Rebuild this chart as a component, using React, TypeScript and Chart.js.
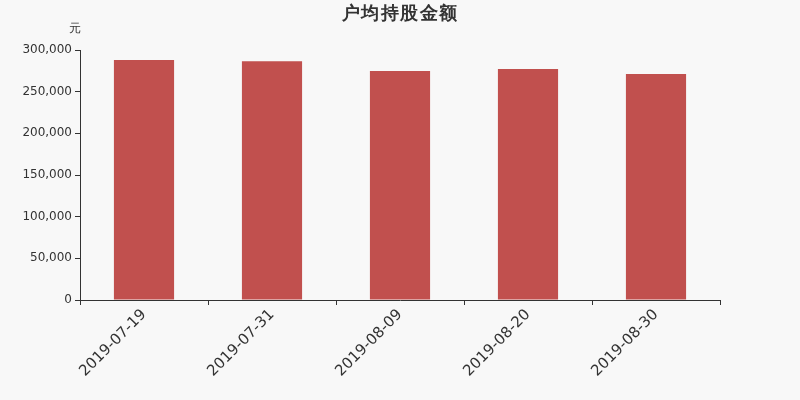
import { useEffect, useRef } from "react";
import { Chart, registerables } from "chart.js";

Chart.register(...registerables);

const dates = ["2019-07-19", "2019-07-31", "2019-08-09", "2019-08-20", "2019-08-30"];
const avgHolding = [288000, 286400, 274800, 277200, 271200];
const yTicks = [0, 50000, 100000, 150000, 200000, 250000, 300000];

const FONT = "'DejaVu Sans', sans-serif";

// title and unit label drawn on the canvas
const headerPlugin = {
  id: "header",
  afterDraw(chart: any) {
    const ctx = chart.ctx;
    ctx.save();
    ctx.fillStyle = "#333";
    ctx.textAlign = "center";
    ctx.textBaseline = "middle";
    ctx.font = `bold 18px ${FONT}`;
    ctx.letterSpacing = "1.5px";
    ctx.fillText("户均持股金额", 400, 14);
    ctx.letterSpacing = "0px";
    ctx.font = `12px ${FONT}`;
    ctx.fillText("元", 75, 29);
    ctx.restore();
  },
};

export default function App() {
  const canvasRef = useRef<HTMLCanvasElement>(null);

  useEffect(() => {
    document.body.style.margin = "0";
    document.body.style.background = "#f8f8f8";
    if (!canvasRef.current) return;
    const chart = new Chart(canvasRef.current, {
      type: "bar",
      data: {
        labels: dates,
        datasets: [{
          data: avgHolding,
          backgroundColor: "#c1504e",
          categoryPercentage: 1,
          barPercentage: 0.47,
        }],
      },
      options: {
        responsive: false,
        animation: false,
        layout: { padding: { top: 50, right: 80, left: 0, bottom: 0 } },
        plugins: { legend: { display: false }, tooltip: { enabled: false } },
        scales: {
          x: {
            offset: true,
            grid: { offset: true, drawOnChartArea: false, tickLength: 5, color: "#333" },
            border: { color: "#333" },
            ticks: { color: "#333", font: { size: 15, family: FONT }, minRotation: 45, maxRotation: 45, padding: 1 },
            afterFit: (s: any) => { s.height = 100; },
          },
          y: {
            min: 0, max: 300000,
            afterBuildTicks: (s: any) => { s.ticks = yTicks.map((v) => ({ value: v })); },
            grid: { drawOnChartArea: false, tickLength: 5, color: "#333" },
            border: { color: "#333" },
            ticks: {
              color: "#333", font: { size: 12, family: FONT }, padding: 3,
              callback: (v: any) => Number(v).toLocaleString("en-US"),
            },
            afterFit: (s: any) => { s.width = 80; },
          },
        },
      },
      plugins: [headerPlugin],
    });
    return () => chart.destroy();
  }, []);

  return (
    <div style={{ width: 800, height: 400, background: "#f8f8f8" }}>
      <canvas ref={canvasRef} width={800} height={400} />
    </div>
  );
}
